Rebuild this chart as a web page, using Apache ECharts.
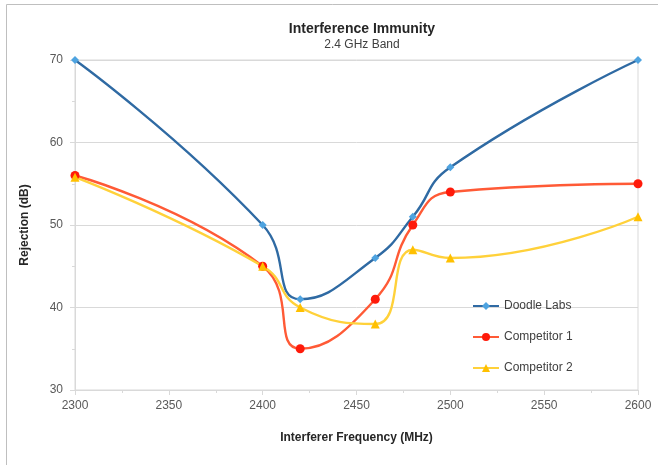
<!DOCTYPE html>
<html><head><meta charset="utf-8">
<script src="https://cdn.jsdelivr.net/npm/echarts@6/dist/echarts.min.js"></script>
<style>html,body{margin:0;padding:0;background:#fff}#c{width:658px;height:465px}</style>
</head><body><div id="c"></div>
<script>
var frequencies = [2300, 2400, 2420, 2460, 2480, 2500, 2600];
var doodleLabs = [70, 50, 41, 46, 51, 57, 70];
var competitor1 = [56, 45, 35, 41, 50, 54, 55];
var competitor2 = [55.8, 45, 40, 38, 47, 46, 51];
var seriesNames = ['Doodle Labs', 'Competitor 1', 'Competitor 2'];

function pairs(vals){ return frequencies.map(function(f,i){ return [f, vals[i]]; }); }

var chart = echarts.init(document.getElementById('c'));
var font = 'Liberation Sans, Arial, sans-serif';
chart.setOption({
  animation: false,
  backgroundColor: '#fff',
  graphic: [{type:'rect', shape:{x:6.5,y:4.5,width:800,height:800}, style:{fill:'none', stroke:'#bfbfbf', lineWidth:1}}],
  title: {
    text: 'Interference Immunity', subtext: '2.4 GHz Band',
    left: 357, textAlign: 'center', top: 17, itemGap: 3,
    textStyle: {fontFamily: font, fontSize: 14, fontWeight: 'bold', color: '#262626'},
    subtextStyle: {fontFamily: font, fontSize: 12, color: '#404040'}
  },
  legend: {
    orient: 'vertical', left: 467, top: 295, itemGap: 19, itemWidth: 26, itemHeight: 10,
    textStyle: {fontFamily: font, fontSize: 12, color: '#404040'},
    data: seriesNames
  },
  grid: {left: 75, right: 20, top: 60, bottom: 75, show: true, borderColor: '#d9d9d9', borderWidth: 1},
  xAxis: {
    type: 'value', min: 2300, max: 2600, interval: 50,
    name: 'Interferer Frequency (MHz)', nameLocation: 'middle', nameGap: 42,
    nameTextStyle: {fontFamily: font, fontSize: 12, fontWeight: 'bold', color: '#262626'},
    axisLine: {lineStyle: {color: '#d9d9d9'}},
    axisTick: {show: true, length: 5, lineStyle: {color: '#d9d9d9'}},
    minorTick: {show: true, splitNumber: 2, length: 3, lineStyle: {color: '#d9d9d9'}},
    axisLabel: {fontFamily: font, fontSize: 12, color: '#595959', margin: 10,
      formatter: function(v){ return String(v); }},
    splitLine: {show: false}
  },
  yAxis: {
    type: 'value', min: 30, max: 70, interval: 10,
    name: 'Rejection (dB)', nameLocation: 'middle', nameGap: 44,
    nameTextStyle: {fontFamily: font, fontSize: 12, fontWeight: 'bold', color: '#262626'},
    axisLine: {show: true, lineStyle: {color: '#d9d9d9'}},
    axisTick: {show: true, length: 5, lineStyle: {color: '#d9d9d9'}},
    minorTick: {show: true, splitNumber: 2, length: 3, lineStyle: {color: '#d9d9d9'}},
    axisLabel: {fontFamily: font, fontSize: 12, color: '#595959', margin: 12},
    splitLine: {show: true, lineStyle: {color: '#d9d9d9'}}
  },
  series: [
    {name: seriesNames[0], type: 'line', smooth: 0.5, data: pairs(doodleLabs),
     symbol: 'diamond', symbolSize: 8, lineStyle: {color: '#2f6aa3', width: 2.4},
     itemStyle: {color: '#4ea3e0'}},
    {name: seriesNames[1], type: 'line', smooth: 0.5, data: pairs(competitor1),
     symbol: 'circle', symbolSize: 9, lineStyle: {color: '#ff5a36', width: 2.4},
     itemStyle: {color: '#ff1a0a'}},
    {name: seriesNames[2], type: 'line', smooth: 0.5, data: pairs(competitor2),
     symbol: 'triangle', symbolSize: 9, lineStyle: {color: '#ffd13a', width: 2.4},
     itemStyle: {color: '#ffc000'}}
  ]
});
</script></body></html>
